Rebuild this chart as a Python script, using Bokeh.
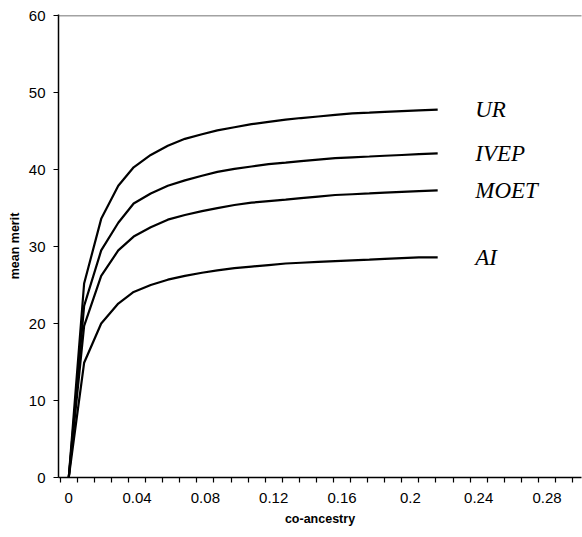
from bokeh.plotting import figure
from bokeh.models import Range1d, FixedTicker, Span, ColumnDataSource
from bokeh.core.properties import value
from bokeh.embed import file_html
from bokeh.resources import INLINE

# ---- data ----
coancestry = [0, 0.009, 0.019, 0.029, 0.038, 0.048, 0.058, 0.068, 0.078, 0.087, 0.097,
              0.107, 0.117, 0.127, 0.136, 0.146, 0.156, 0.166, 0.176, 0.185, 0.195,
              0.205, 0.216]
ur = [0, 25.2, 33.6, 37.9, 40.3, 41.9, 43.1, 44.0, 44.6, 45.1, 45.5, 45.9, 46.2, 46.5,
      46.7, 46.9, 47.1, 47.3, 47.4, 47.5, 47.6, 47.7, 47.8]
ivep = [0, 22.3, 29.5, 33.1, 35.6, 36.9, 37.9, 38.6, 39.2, 39.7, 40.1, 40.4, 40.7, 40.9,
        41.1, 41.3, 41.5, 41.6, 41.7, 41.8, 41.9, 42.0, 42.1]
moet = [0, 19.7, 26.2, 29.5, 31.3, 32.5, 33.5, 34.1, 34.6, 35.0, 35.4, 35.7, 35.9, 36.1,
        36.3, 36.5, 36.7, 36.8, 36.9, 37.0, 37.1, 37.2, 37.3]
ai = [0, 14.9, 20.0, 22.6, 24.1, 25.0, 25.7, 26.2, 26.6, 26.9, 27.2, 27.4, 27.6, 27.8,
      27.9, 28.0, 28.1, 28.2, 28.3, 28.4, 28.5, 28.6, 28.6]
series_names = ["UR", "IVEP", "MOET", "AI"]
x_tick_values = [0, 0.04, 0.08, 0.12, 0.16, 0.2, 0.24, 0.28]
x_tick_labels = ["0", "0.04", "0.08", "0.12", "0.16", "0.2", "0.24", "0.28"]
y_tick_values = [0, 10, 20, 30, 40, 50, 60]

p = figure(width=582, height=537, output_backend="svg", toolbar_location=None,
           x_range=Range1d(-0.006, 0.3002), y_range=Range1d(0, 60.15),
           min_border_left=58, min_border_right=1, min_border_top=14, min_border_bottom=60)
p.outline_line_color = None
p.grid.visible = False
p.background_fill_color = "white"
p.border_fill_color = "white"

series = [ur, ivep, moet, ai]
for ys in series:
    p.line(coancestry, ys, line_color="black", line_width=2.2)

# labels at line ends
label_x = 0.238
src = ColumnDataSource(dict(x=[label_x] * len(series), y=[s[-1] for s in series],
                            t=series_names))
p.text(x="x", y="y", text="t", source=src, text_font=value("Liberation Serif"),
       text_font_style="italic", text_font_size="23px", text_baseline="middle",
       text_align="left", text_color="black")

# dotted top line
p.add_layout(Span(location=60, dimension="width", line_color="#444444",
                  line_dash="1 1", line_width=1.5))

font = "Liberation Sans"
xa = p.xaxis[0]
xa.ticker = FixedTicker(ticks=x_tick_values,
                        minor_ticks=[round(-0.005 + 0.01 * i, 3) for i in range(31)])
xa.major_label_overrides = {v: l for v, l in zip(x_tick_values, x_tick_labels)}
xa.major_tick_line_color = None
xa.minor_tick_out = 5
xa.minor_tick_in = 0
xa.minor_tick_line_color = "black"
xa.minor_tick_line_width = 1.2
xa.axis_line_color = "black"
xa.axis_line_width = 1.5
xa.major_label_text_font = font
xa.major_label_text_font_size = "15px"
xa.major_label_text_color = "black"
xa.major_label_standoff = 9
xa.axis_label = "co-ancestry"
xa.axis_label_text_font = font
xa.axis_label_text_font_size = "12.5px"
xa.axis_label_text_font_style = "bold"
xa.axis_label_text_color = "black"
xa.axis_label_standoff = 6

ya = p.yaxis[0]
ya.ticker = FixedTicker(ticks=y_tick_values)
ya.major_tick_out = 5
ya.major_tick_in = 0
ya.major_tick_line_color = "black"
ya.minor_tick_line_color = None
ya.axis_line_color = "black"
ya.axis_line_width = 1.5
ya.major_label_text_font = font
ya.major_label_text_font_size = "15px"
ya.major_label_text_color = "black"
ya.major_label_standoff = 8
ya.axis_label = "mean merit"
ya.axis_label_text_font = font
ya.axis_label_text_font_size = "12.5px"
ya.axis_label_text_font_style = "bold"
ya.axis_label_text_color = "black"
ya.axis_label_standoff = 4

open("out.html", "w").write(file_html(p, INLINE))
